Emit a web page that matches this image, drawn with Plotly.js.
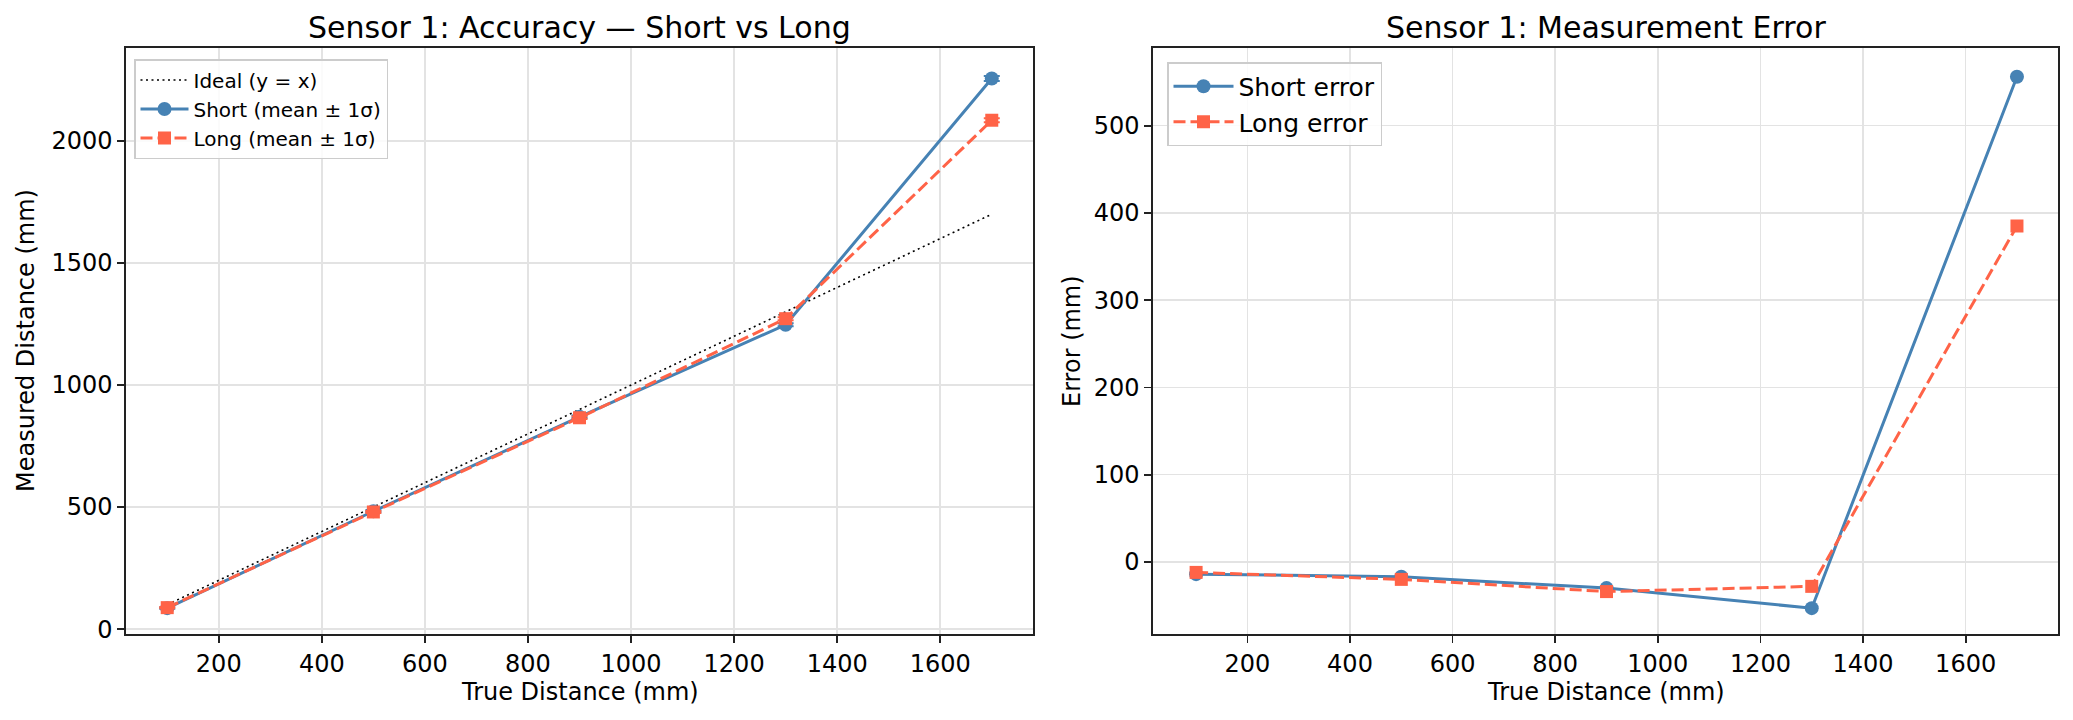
<!DOCTYPE html>
<html>
<head>
<meta charset="utf-8">
<script src="https://cdn.plot.ly/plotly-3.0.1.min.js"></script>
<style>html,body{margin:0;padding:0;background:#fff;}#chart{width:2073px;height:720px;}</style>
</head>
<body>
<div id="chart"></div>
<script>
// ---- data ----
const trueDist = [100, 500, 900, 1300, 1700];
const shortMean = [86, 483, 870, 1247, 2256];
const shortStd = [3, 4, 5, 6, 10];
const longMean = [88, 480, 866, 1272, 2085];
const longStd = [3, 4, 5, 6, 8];
const shortErr = [-14, -17, -30, -53, 556];
const longErr = [-12, -20, -34, -28, 385];

const blue = '#4682b4';
const red = '#ff6347';
const FONT = 'DejaVu Sans, Liberation Sans, sans-serif';

const traces = [
  {x: trueDist, y: trueDist, mode: 'lines', name: 'Ideal (y = x)',
   line: {color: '#000', width: 1.6, dash: '2px,3.5px'}, xaxis: 'x', yaxis: 'y', legend: 'legend'},
  {x: trueDist, y: shortMean, mode: 'lines+markers', name: 'Short (mean ± 1σ)',
   line: {color: blue, width: 3}, marker: {color: blue, size: 14, symbol: 'circle'},
   error_y: {type: 'data', array: shortStd, visible: true, color: blue, thickness: 2, width: 8},
   xaxis: 'x', yaxis: 'y', legend: 'legend'},
  {x: trueDist, y: longMean, mode: 'lines+markers', name: 'Long (mean ± 1σ)',
   line: {color: red, width: 3, dash: '12px,5px'}, marker: {color: red, size: 13, symbol: 'square'},
   error_y: {type: 'data', array: longStd, visible: true, color: red, thickness: 2, width: 8},
   xaxis: 'x', yaxis: 'y', legend: 'legend'},
  {x: trueDist, y: shortErr, mode: 'lines+markers', name: 'Short error',
   line: {color: blue, width: 3}, marker: {color: blue, size: 14, symbol: 'circle'},
   xaxis: 'x2', yaxis: 'y2', legend: 'legend2'},
  {x: trueDist, y: longErr, mode: 'lines+markers', name: 'Long error',
   line: {color: red, width: 3, dash: '12px,5px'}, marker: {color: red, size: 13, symbol: 'square'},
   xaxis: 'x2', yaxis: 'y2', legend: 'legend2'}
];

const axBase = {
  showline: true, mirror: true, linecolor: '#222', linewidth: 1.7,
  ticks: 'outside', ticklen: 7, tickwidth: 1.7, tickcolor: '#222',
  showgrid: true, gridcolor: '#e3e3e3', gridwidth: 1.6,
  zeroline: false, tickfont: {family: FONT, size: 24, color: '#000'},
  automargin: false
};

const W = 1932, H = 586, L = 126, T = 48;
const px = p => (p - L) / W;
const py = p => (T + H - p) / H;

const layout = {
  width: 2073, height: 720,
  margin: {l: L, r: 15, t: T, b: 720 - T - H, pad: 0},
  paper_bgcolor: '#fff', plot_bgcolor: '#fff',
  font: {family: FONT, color: '#000'},
  showlegend: true,
  xaxis: Object.assign({}, axBase, {domain: [0, px(1033)], range: [20, 1780], dtick: 200, tick0: 0, anchor: 'y'}),
  yaxis: Object.assign({}, axBase, {domain: [0, 1], range: [-20, 2381], dtick: 500, tick0: 0, anchor: 'x'}),
  xaxis2: Object.assign({}, axBase, {domain: [px(1153), 1], range: [16, 1780], dtick: 200, tick0: 0, anchor: 'y2'}),
  yaxis2: Object.assign({}, axBase, {domain: [0, 1], range: [-82.6, 589], dtick: 100, tick0: 0, anchor: 'x2'}),
  legend: {x: px(134), y: py(59), xanchor: 'left', yanchor: 'top',
    bgcolor: 'rgba(255,255,255,0.85)', bordercolor: '#cccccc', borderwidth: 1.5,
    font: {family: FONT, size: 20, color: '#000'}, tracegroupgap: 0, itemwidth: 48},
  legend2: {x: px(1167), y: py(62), xanchor: 'left', yanchor: 'top',
    bgcolor: 'rgba(255,255,255,0.85)', bordercolor: '#cccccc', borderwidth: 1.5,
    font: {family: FONT, size: 25, color: '#000'}, tracegroupgap: 0, itemwidth: 60},
  shapes: [
    {type: 'line', xref: 'x2 domain', yref: 'y2', x0: 0, x1: 1, y0: 0, y1: 0,
     line: {color: '#000', width: 1.6}, layer: 'below'}
  ],
  annotations: [
    {text: 'Sensor 1: Accuracy — Short vs Long', xref: 'paper', yref: 'paper',
     x: px((126 + 1033) / 2), y: py(28), xanchor: 'center', yanchor: 'middle', showarrow: false,
     font: {family: FONT, size: 30, color: '#000'}},
    {text: 'Sensor 1: Measurement Error', xref: 'paper', yref: 'paper',
     x: px((1153 + 2058) / 2), y: py(28), xanchor: 'center', yanchor: 'middle', showarrow: false,
     font: {family: FONT, size: 30, color: '#000'}},
    {text: 'True Distance (mm)', xref: 'paper', yref: 'paper',
     x: px((126 + 1033) / 2), y: py(692), xanchor: 'center', yanchor: 'middle', showarrow: false,
     font: {family: FONT, size: 24, color: '#000'}},
    {text: 'True Distance (mm)', xref: 'paper', yref: 'paper',
     x: px((1153 + 2058) / 2), y: py(692), xanchor: 'center', yanchor: 'middle', showarrow: false,
     font: {family: FONT, size: 24, color: '#000'}},
    {text: 'Measured Distance (mm)', xref: 'paper', yref: 'paper',
     x: px(26), y: py(341), xanchor: 'center', yanchor: 'middle', showarrow: false, textangle: -90,
     font: {family: FONT, size: 24, color: '#000'}},
    {text: 'Error (mm)', xref: 'paper', yref: 'paper',
     x: px(1072), y: py(341), xanchor: 'center', yanchor: 'middle', showarrow: false, textangle: -90,
     font: {family: FONT, size: 24, color: '#000'}}
  ]
};

Plotly.newPlot('chart', traces, layout, {displayModeBar: false, staticPlot: true});
</script>
</body>
</html>
